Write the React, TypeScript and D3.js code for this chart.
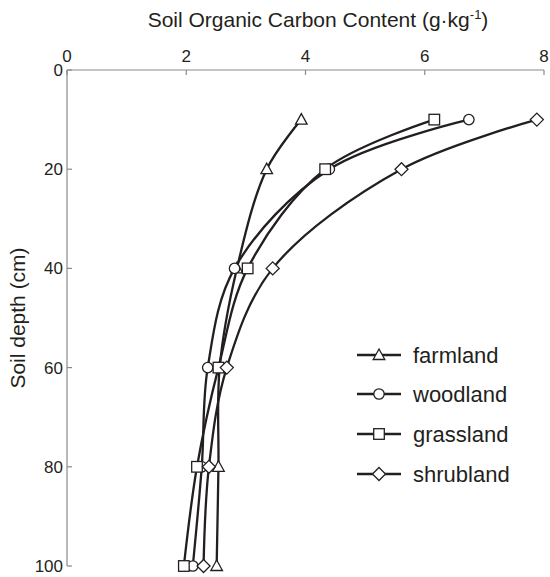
import React from 'react';
import * as d3 from 'd3';

const depths = [10, 20, 40, 60, 80, 100];
const farmland = [3.93, 3.35, 2.85, 2.56, 2.54, 2.51];
const woodland = [6.74, 4.4, 2.81, 2.36, 2.26, 2.11];
const grassland = [6.16, 4.33, 3.03, 2.54, 2.18, 1.96];
const shrubland = [7.88, 5.61, 3.45, 2.68, 2.38, 2.29];
const seriesNames = ['farmland', 'woodland', 'grassland', 'shrubland'];
const markerKinds = ['triangle', 'circle', 'square', 'diamond'];
const xTicks = [0, 2, 4, 6, 8];
const yTicks = [0, 20, 40, 60, 80, 100];

const W = 550;
const H = 577;
const axisColor = '#8a8a8a';
const textColor = '#231f20';
const font = '"Liberation Sans", Arial, sans-serif';

function Marker({ kind, x, y }: { kind: string; x: number; y: number }) {
  const common = { fill: '#fff', stroke: textColor, strokeWidth: 1.3 };
  if (kind === 'circle') return <circle cx={x} cy={y} r={5.2} {...common} />;
  if (kind === 'square') return <rect x={x - 5.3} y={y - 5.3} width={10.6} height={10.6} {...common} />;
  if (kind === 'diamond')
    return <path d={`M${x},${y - 6.5}L${x + 6.5},${y}L${x},${y + 6.5}L${x - 6.5},${y}Z`} {...common} />;
  return <path d={`M${x},${y - 6}L${x + 5.8},${y + 4.5}L${x - 5.8},${y + 4.5}Z`} {...common} />;
}

export default function App() {
  const x = d3.scaleLinear().domain([0, 8]).range([67, 544]);
  const y = d3.scaleLinear().domain([0, 100]).range([70, 566]);
  const all = [farmland, woodland, grassland, shrubland];

  // smooth line through the measured depths
  const lineGen = d3
    .line<number>()
    .x((d) => x(d))
    .y((d, i) => y(depths[i]))
    .curve(d3.curveCatmullRom.alpha(0.5));

  const legendX = 357;
  const legendY = [355, 394, 434, 474];

  return (
    <svg
      width={W}
      height={H}
      style={{ position: 'absolute', left: 0, top: 0, background: '#fff' }}
      fontFamily={font}
    >
      {/* axes */}
      <line x1={x(0)} x2={x(8)} y1={y(0)} y2={y(0)} stroke={axisColor} strokeWidth={1.2} />
      <line x1={x(0)} x2={x(0)} y1={y(0)} y2={y(100)} stroke={axisColor} strokeWidth={1.2} />
      {xTicks.map((t) => (
        <g key={'x' + t}>
          <line x1={x(t)} x2={x(t)} y1={y(0)} y2={y(0) + 5} stroke={axisColor} strokeWidth={1.2} />
          <text x={x(t)} y={62} textAnchor="middle" fontSize={17} fill={textColor}>
            {t}
          </text>
        </g>
      ))}
      {yTicks.map((t) => (
        <g key={'y' + t}>
          <line x1={x(0)} x2={x(0) + 5} y1={y(t)} y2={y(t)} stroke={axisColor} strokeWidth={1.2} />
          <text x={63} y={y(t) + 6} textAnchor="end" fontSize={17} fill={textColor}>
            {t}
          </text>
        </g>
      ))}
      <text x={318} y={27} textAnchor="middle" fontSize={21} fill={textColor}>
        Soil Organic Carbon Content (g·kg
        <tspan fontSize={13} dy={-8}>-1</tspan>
        <tspan dy={8}>)</tspan>
      </text>
      <text
        transform={`translate(25,${y(50)}) rotate(-90)`}
        textAnchor="middle"
        fontSize={21}
        fill={textColor}
      >
        Soil depth (cm)
      </text>

      {/* series */}
      {all.map((vals, s) => (
        <path key={'l' + s} d={lineGen(vals) || ''} fill="none" stroke={textColor} strokeWidth={2.3} />
      ))}
      {all.map((vals, s) =>
        vals.map((v, i) => <Marker key={`m${s}-${i}`} kind={markerKinds[s]} x={x(v)} y={y(depths[i])} />)
      )}

      {/* legend */}
      {seriesNames.map((name, s) => (
        <g key={name}>
          <line x1={legendX} x2={legendX + 44} y1={legendY[s]} y2={legendY[s]} stroke={textColor} strokeWidth={2.3} />
          <Marker kind={markerKinds[s]} x={legendX + 22} y={legendY[s]} />
          <text x={legendX + 56} y={legendY[s] + 8} fontSize={22} fill={textColor}>
            {name}
          </text>
        </g>
      ))}
    </svg>
  );
}
